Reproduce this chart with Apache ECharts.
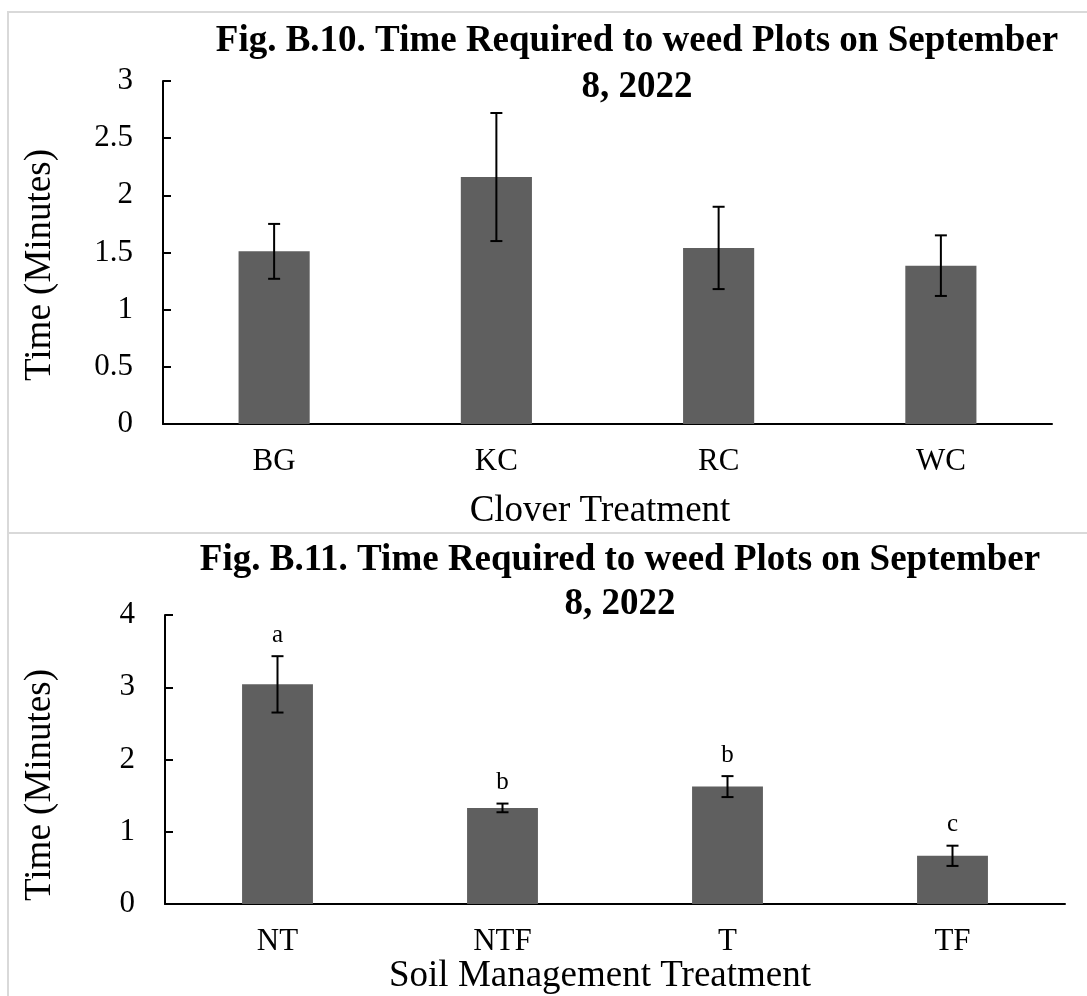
<!DOCTYPE html>
<html><head><meta charset="utf-8">
<script src="https://cdn.jsdelivr.net/npm/echarts@6/dist/echarts.min.js"></script>
<style>html,body{margin:0;padding:0;background:#fff}#c{width:1087px;height:996px}</style>
</head><body><div id="c"></div>
<script>
// ---- data ----
const cloverCategories = ['BG', 'KC', 'RC', 'WC'];
const cloverMeans = [1.51, 2.16, 1.54, 1.385];
const cloverErrors = [0.24, 0.56, 0.36, 0.265];
const cloverYAxis = { min: 0, max: 3, interval: 0.5 };

const soilCategories = ['NT', 'NTF', 'T', 'TF'];
const soilMeans = [3.04, 1.33, 1.625, 0.667];
const soilErrors = [0.39, 0.06, 0.145, 0.14];
const soilLetters = ['a', 'b', 'b', 'c'];
const soilYAxis = { min: 0, max: 4, interval: 1 };

const topTitle = 'Fig. B.10. Time Required to weed Plots on September\n8, 2022';
const bottomTitle = 'Fig. B.11. Time Required to weed Plots on September\n8, 2022';
const yTitle = 'Time (Minutes)';
const topXTitle = 'Clover Treatment';
const bottomXTitle = 'Soil Management Treatment';

// ---- styling ----
const FONT = '"Liberation Serif", "Times New Roman", serif';
const BAR = '#5f5f5f';

function errRender(errors, letters) {
  return function (params, api) {
    const i = api.value(0), m = api.value(1), e = errors[params.dataIndex];
    const top = api.coord([i, m + e]);
    const bot = api.coord([i, m - e]);
    const x = top[0], hw = 6;
    const style = { stroke: '#000', lineWidth: 2 };
    const children = [
      { type: 'line', shape: { x1: x, y1: top[1], x2: x, y2: bot[1] }, style },
      { type: 'line', shape: { x1: x - hw, y1: top[1], x2: x + hw, y2: top[1] }, style },
      { type: 'line', shape: { x1: x - hw, y1: bot[1], x2: x + hw, y2: bot[1] }, style }
    ];
    if (letters) {
      children.push({
        type: 'text', x: x, y: top[1] - 21,
        style: { text: letters[params.dataIndex], fontSize: 25, fontFamily: FONT, fill: '#000', align: 'center', verticalAlign: 'middle' }
      });
    }
    return { type: 'group', children };
  };
}

function xAxisCfg(cats, gi) {
  return {
    type: 'category', gridIndex: gi, data: cats,
    axisLine: { show: true, lineStyle: { color: '#000', width: 2 } },
    axisTick: { show: false },
    axisLabel: { color: '#000', fontSize: 31, fontFamily: FONT, margin: 22 },
    splitLine: { show: false }
  };
}
function yAxisCfg(cfg, gi) {
  return {
    type: 'value', gridIndex: gi, min: cfg.min, max: cfg.max, interval: cfg.interval,
    axisLine: { show: true, lineStyle: { color: '#000', width: 2 } },
    axisTick: { show: true, inside: true, length: 8, lineStyle: { color: '#000', width: 2 } },
    axisLabel: { color: '#000', fontSize: 31, fontFamily: FONT, margin: 30 },
    splitLine: { show: false }
  };
}

const chart = echarts.init(document.getElementById('c'), null, { renderer: 'canvas' });
chart.setOption({
  backgroundColor: '#fff',
  animation: false,
  grid: [
    { left: 163, top: 81, width: 889, height: 343, outerBoundsMode: 'none', containLabel: false },
    { left: 165, top: 615, width: 900, height: 289, outerBoundsMode: 'none', containLabel: false }
  ],
  xAxis: [xAxisCfg(cloverCategories, 0), xAxisCfg(soilCategories, 1)],
  yAxis: [yAxisCfg(cloverYAxis, 0), yAxisCfg(soilYAxis, 1)],
  series: [
    { type: 'bar', xAxisIndex: 0, yAxisIndex: 0, data: cloverMeans, barWidth: '32%', itemStyle: { color: BAR } },
    { type: 'custom', xAxisIndex: 0, yAxisIndex: 0, data: cloverMeans.map((m, i) => [i, m]),
      renderItem: errRender(cloverErrors, null), z: 5 },
    { type: 'bar', xAxisIndex: 1, yAxisIndex: 1, data: soilMeans, barWidth: '31.5%', itemStyle: { color: BAR } },
    { type: 'custom', xAxisIndex: 1, yAxisIndex: 1, data: soilMeans.map((m, i) => [i, m]),
      renderItem: errRender(soilErrors, soilLetters), z: 5 }
  ],
  graphic: [
    { type: 'rect', z: -1, shape: { x: 8, y: 12, width: 1100, height: 521 }, style: { fill: 'none', stroke: '#d9d9d9', lineWidth: 2 } },
    { type: 'rect', z: -1, shape: { x: 8, y: 533, width: 1100, height: 500 }, style: { fill: 'none', stroke: '#d9d9d9', lineWidth: 2 } },
    { type: 'text', x: 637, y: 64, style: { text: topTitle, fontSize: 37, fontWeight: 'bold', fontFamily: FONT, lineHeight: 46, fill: '#000', align: 'center', verticalAlign: 'middle' } },
    { type: 'text', x: 620, y: 582, style: { text: bottomTitle, fontSize: 37, fontWeight: 'bold', fontFamily: FONT, lineHeight: 44, fill: '#000', align: 'center', verticalAlign: 'middle' } },
    { type: 'text', x: 40, y: 265, rotation: Math.PI / 2, style: { text: yTitle, fontSize: 37, fontFamily: FONT, fill: '#000', align: 'center', verticalAlign: 'middle' } },
    { type: 'text', x: 40, y: 785, rotation: Math.PI / 2, style: { text: yTitle, fontSize: 37, fontFamily: FONT, fill: '#000', align: 'center', verticalAlign: 'middle' } },
    { type: 'text', x: 600, y: 511, style: { text: topXTitle, fontSize: 37, fontFamily: FONT, fill: '#000', align: 'center', verticalAlign: 'middle' } },
    { type: 'text', x: 600, y: 976, style: { text: bottomXTitle, fontSize: 37, fontFamily: FONT, fill: '#000', align: 'center', verticalAlign: 'middle' } }
  ]
});
</script>
</body></html>
